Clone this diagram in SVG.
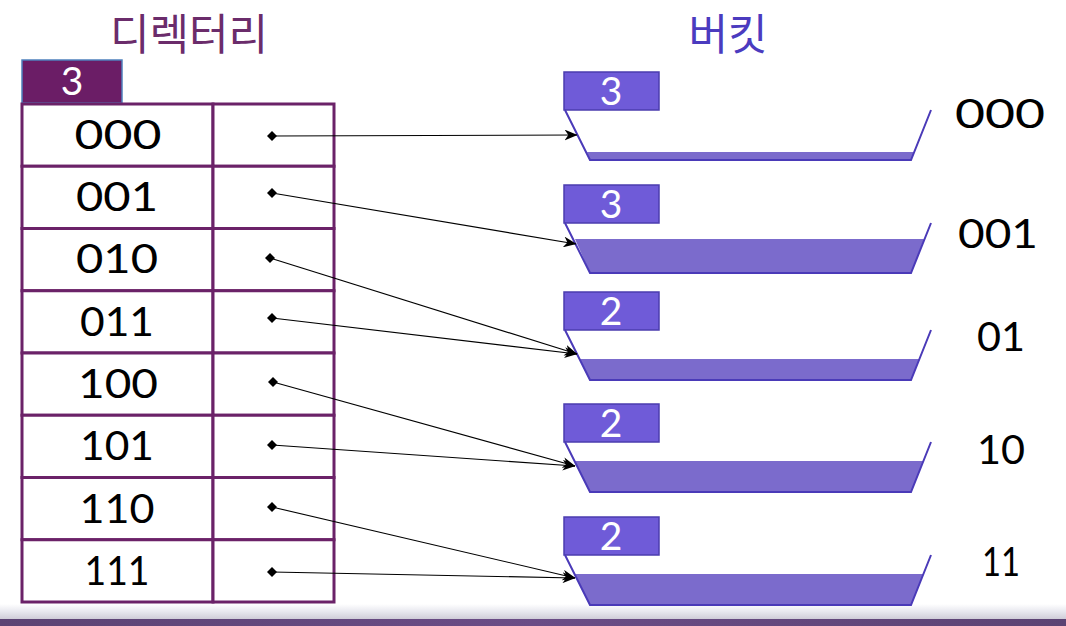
<svg xmlns="http://www.w3.org/2000/svg" width="1066" height="626" viewBox="0 0 1066 626">
<style>
.title{font-family:"Noto Sans CJK KR","Noto Sans",sans-serif;font-size:43px;text-anchor:middle}
.cell{fill:#fff;stroke:#6B2268;stroke-width:3}
.lbl{font-family:"Lato","Open Sans",sans-serif;font-size:41px;fill:#000;text-anchor:middle}
.box{fill:#6F5BD8;stroke:#4B3DAF;stroke-width:1.5}
.boxt{font-family:"Lato","Open Sans",sans-serif;font-size:39px;fill:#fff;text-anchor:middle}
.edge{fill:none;stroke:#4A3AB8;stroke-width:2}
.fill{fill:#7B6BCC}
.conn{fill:none;stroke:#000;stroke-width:1.1;marker-start:url(#dia);marker-end:url(#arr)}
</style>
<defs>
<marker id="arr" viewBox="0 0 12 10" refX="11.5" refY="5" markerWidth="13" markerHeight="11" markerUnits="userSpaceOnUse" orient="auto"><path d="M0,0 L12,5 L0,10 L3.5,5 z" fill="#000"/></marker>
<marker id="dia" viewBox="0 0 10 10" refX="5" refY="5" markerWidth="11" markerHeight="10" markerUnits="userSpaceOnUse"><path d="M0,5 L5,0 L10,5 L5,10 z" fill="#000"/></marker>
<linearGradient id="bg" x1="0" y1="0" x2="0" y2="1"><stop offset="0" stop-color="#ffffff"/><stop offset="0.5" stop-color="#E8E8EF"/><stop offset="1" stop-color="#CFCDD8"/></linearGradient>
<linearGradient id="bp" x1="0" y1="0" x2="1" y2="0"><stop offset="0" stop-color="#5B4373"/><stop offset="0.5" stop-color="#6A4C86"/><stop offset="1" stop-color="#5B4373"/></linearGradient>
</defs>
<rect x="0" y="0" width="1066" height="626" fill="#fff"/>
<rect x="0" y="604" width="1066" height="15" fill="url(#bg)"/>
<rect x="0" y="619" width="1066" height="7" fill="url(#bp)"/>

<text class="title" x="189" y="50" fill="#6B2C6B">디렉터리</text>
<text class="title" x="728" y="50" fill="#4B3BBF">버킷</text>

<g id="global-depth">
<rect x="22" y="60" width="100" height="43" fill="#6B1D66" stroke="#4F81BD" stroke-width="1.5"/>
<text class="boxt" x="72" y="95">3</text>
</g>

<g id="directory">
<rect class="cell" x="22" y="104" width="191" height="62.25"/><rect class="cell" x="213" y="104" width="121" height="62.25"/>
<rect class="cell" x="22" y="166.25" width="191" height="62.25"/><rect class="cell" x="213" y="166.25" width="121" height="62.25"/>
<rect class="cell" x="22" y="228.5" width="191" height="62.25"/><rect class="cell" x="213" y="228.5" width="121" height="62.25"/>
<rect class="cell" x="22" y="290.75" width="191" height="62.25"/><rect class="cell" x="213" y="290.75" width="121" height="62.25"/>
<rect class="cell" x="22" y="353" width="191" height="62.25"/><rect class="cell" x="213" y="353" width="121" height="62.25"/>
<rect class="cell" x="22" y="415.25" width="191" height="62.25"/><rect class="cell" x="213" y="415.25" width="121" height="62.25"/>
<rect class="cell" x="22" y="477.5" width="191" height="62.25"/><rect class="cell" x="213" y="477.5" width="121" height="62.25"/>
<rect class="cell" x="22" y="539.75" width="191" height="62.25"/><rect class="cell" x="213" y="539.75" width="121" height="62.25"/>
<text class="lbl" x="118" y="149" textLength="87" lengthAdjust="spacingAndGlyphs">000</text>
<text class="lbl" x="117" y="211" textLength="82" lengthAdjust="spacingAndGlyphs">001</text>
<text class="lbl" x="117" y="273" textLength="82" lengthAdjust="spacingAndGlyphs">010</text>
<text class="lbl" x="117" y="336" textLength="74" lengthAdjust="spacingAndGlyphs">011</text>
<text class="lbl" x="118" y="398" textLength="80" lengthAdjust="spacingAndGlyphs">100</text>
<text class="lbl" x="117" y="460" textLength="74" lengthAdjust="spacingAndGlyphs">101</text>
<text class="lbl" x="117" y="523" textLength="75" lengthAdjust="spacingAndGlyphs">110</text>
<text class="lbl" x="117" y="585" textLength="65" lengthAdjust="spacingAndGlyphs">111</text>
</g>

<g id="bucket-000">
<rect class="box" x="564" y="72" width="95" height="38"/>
<text class="boxt" x="611" y="105">3</text>
<polygon class="fill" points="587,152 914,152 911,160 590,160"/>
<polyline class="edge" points="565,110 590,160 911,160 931,110"/>
<text class="lbl" x="1000" y="128" textLength="90" lengthAdjust="spacingAndGlyphs">000</text>
</g>
<g id="bucket-001">
<rect class="box" x="564" y="185" width="95" height="38"/>
<text class="boxt" x="611" y="218">3</text>
<polygon class="fill" points="575,239 924,239 911,273 590,273"/>
<polyline class="edge" points="565,223 590,273 911,273 931,223"/>
<text class="lbl" x="998" y="248" textLength="80" lengthAdjust="spacingAndGlyphs">001</text>
</g>
<g id="bucket-01">
<rect class="box" x="564" y="292" width="95" height="38"/>
<text class="boxt" x="611" y="325">2</text>
<polygon class="fill" points="580,359 919,359 911,380 590,380"/>
<polyline class="edge" points="565,330 590,380 911,380 931,330"/>
<text class="lbl" x="1001" y="351" textLength="48" lengthAdjust="spacingAndGlyphs">01</text>
</g>
<g id="bucket-10">
<rect class="box" x="564" y="404" width="95" height="38"/>
<text class="boxt" x="611" y="437">2</text>
<polygon class="fill" points="575,461 923,461 911,492 590,492"/>
<polyline class="edge" points="565,442 590,492 911,492 931,442"/>
<text class="lbl" x="1001" y="464" textLength="48" lengthAdjust="spacingAndGlyphs">10</text>
</g>
<g id="bucket-11">
<rect class="box" x="564" y="517" width="95" height="38"/>
<text class="boxt" x="611" y="550">2</text>
<polygon class="fill" points="575,574 923,574 911,605 590,605"/>
<polyline class="edge" points="565,555 590,605 911,605 931,555"/>
<text class="lbl" x="1001" y="576" textLength="38" lengthAdjust="spacingAndGlyphs">11</text>
</g>

<g id="connectors">
<line class="conn" x1="272" y1="136" x2="577" y2="135"/>
<line class="conn" x1="272" y1="193" x2="576" y2="244"/>
<line class="conn" x1="270" y1="258" x2="577" y2="354"/>
<line class="conn" x1="272" y1="318" x2="577" y2="354"/>
<line class="conn" x1="273" y1="382" x2="575" y2="466"/>
<line class="conn" x1="272" y1="445" x2="575" y2="466"/>
<line class="conn" x1="272" y1="507" x2="575" y2="578"/>
<line class="conn" x1="272" y1="572" x2="575" y2="578"/>
</g>
</svg>
